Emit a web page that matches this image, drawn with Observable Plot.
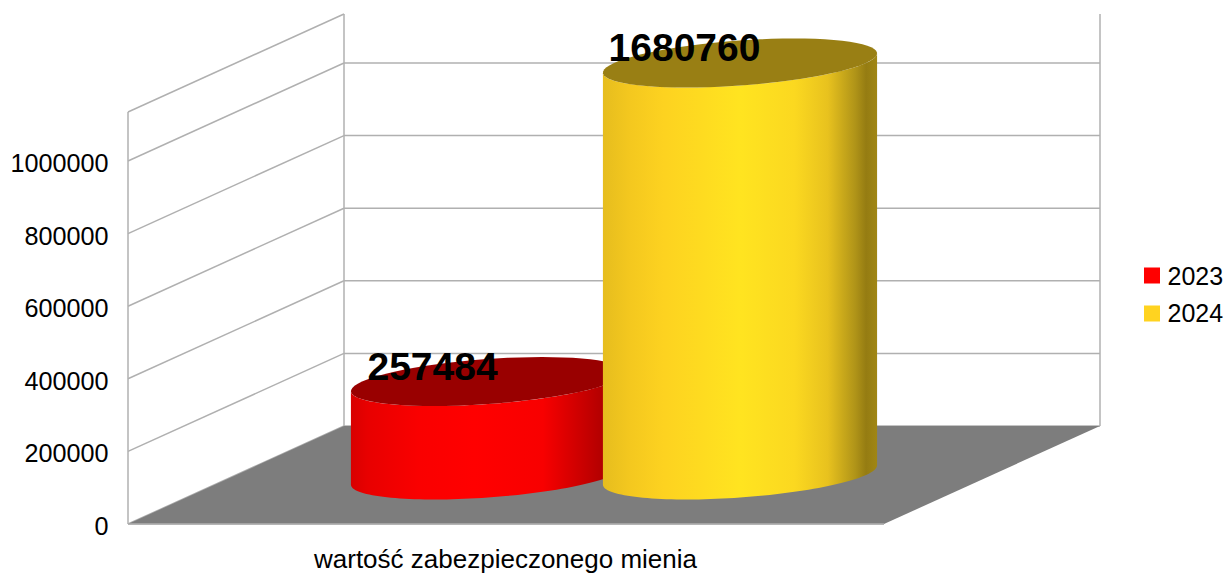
<!DOCTYPE html>
<html>
<head>
<meta charset="utf-8">
<script src="https://cdn.jsdelivr.net/npm/d3@7"></script>
<script src="https://cdn.jsdelivr.net/npm/@observablehq/plot@0.6"></script>
<style>
html,body{margin:0;padding:0;background:#fff;overflow:hidden}
svg{display:block}
</style>
</head>
<body>
<div id="chart"></div>
<script>
const category = "wartość zabezpieczonego mienia";
const seriesNames = ["2023", "2024"];
const seriesValues = [257484, 1680760];
const tickValues = [0, 200000, 400000, 600000, 800000, 1000000];
const axisMax = 1135000;
const capColors = ["#990000", "#997f14"];
const legendColors = ["#ff0000", "#ffd320"];
const bodyStops = [
  [[0, "#d80000"], [0.06, "#e80000"], [0.25, "#fa0000"], [0.45, "#ff0000"], [0.7, "#f80000"], [0.9, "#b80000"], [1, "#980000"]],
  [[0, "#e6bd1e"], [0.1, "#f4c81f"], [0.22, "#fdd220"], [0.5, "#ffe420"], [0.7, "#fbd820"], [0.82, "#e8c21e"], [0.92, "#b09418"], [0.96, "#957c12"], [1, "#a08614"]]
];

const font = "'Liberation Sans', Arial, sans-serif";
const gridColor = "#b0b0b0";
const depthX = 216 / 756, depthY = axisMax * 98 / 412;
const project = (u, v, d) => ({x: u + d * depthX, y: v + d * depthY});

// Cylinders sit in two equal slots of the single category, mid-depth on the floor
const radiusU = 1 / 6, radiusD = 0.25, centreD = 0.5;
const slotU = i => (i + 1) / 3;
const tangent = Math.atan2(radiusD * depthX, radiusU);
const onRim = (i, v, t) => project(slotU(i) + radiusU * Math.cos(t), v, centreD + radiusD * Math.sin(t));
const steps = d3.range(0, 73);
const cap = (i, v) => steps.map(k => onRim(i, v, k / 72 * 2 * Math.PI));
const frontArc = (i, v) => steps.map(k => onRim(i, v, tangent + Math.PI + k / 72 * Math.PI));
const body = (i, v) => [...frontArc(i, 0), ...frontArc(i, v).reverse()];
const shown = v => Math.min(v, axisMax);

const floor = [project(0, 0, 0), project(1, 0, 0), project(1, 0, 1), project(0, 0, 1), project(0, 0, 0)];
const seg = (a, b) => ({x1: a.x, y1: a.y, x2: b.x, y2: b.y});
const frame = [
  seg(project(0, 0, 0), project(0, axisMax, 0)),
  seg(project(0, 0, 1), project(0, axisMax, 1)),
  seg(project(1, 0, 1), project(1, axisMax, 1)),
  seg(project(0, axisMax, 0), project(0, axisMax, 1)),
  seg(project(0, 0, 0), project(1, 0, 0))
];
const grid = tickValues.flatMap(v => [
  seg(project(0, v, 0), project(0, v, 1)),
  seg(project(0, v, 1), project(1, v, 1))
]);
const linkOpts = {x1: "x1", y1: "y1", x2: "x2", y2: "y2", stroke: gridColor, strokeWidth: 1.5};

const marginLeft = 128;
const chart = Plot.plot({
  width: 1226, height: 573,
  marginLeft, marginRight: 0, marginTop: 0, marginBottom: 0,
  style: {fontFamily: font, background: "#fff"},
  x: {domain: [0, 1], range: [127.5, 883.5], axis: null},
  y: {domain: [0, axisMax], range: [523.5, 111.5], axis: null},
  marks: [
    Plot.link(grid, linkOpts),
    Plot.link(frame, linkOpts),
    Plot.line(floor, {x: "x", y: "y", fill: "#7d7d7d", stroke: "none"}),
    Plot.link([frame[4]], linkOpts),
    ...seriesValues.flatMap((v, i) => [
      Plot.line(body(i, shown(v)), {x: "x", y: "y", fill: `url(#body${i})`, stroke: "none"}),
      Plot.line(cap(i, shown(v)), {x: "x", y: "y", fill: capColors[i], stroke: "none"})
    ]),
    Plot.axisY(tickValues, {anchor: "left", tickSize: 0, tickPadding: 20, tickFormat: d3.format("d"),
      fontSize: 25.2, fill: "#000", dy: 3, label: null}),
    Plot.text([category], {text: d => d, x: () => 0.5, frameAnchor: "bottom", lineAnchor: "middle",
      dx: -0.5, dy: -14, fontSize: 26, fill: "#000"}),
    Plot.text(seriesValues.map((v, i) => ({...project(slotU(i), shown(v), centreD), v})), {
      x: "x", y: "y", text: d => String(d.v), textAnchor: "middle", dx: -55.5, dy: -14,
      fontSize: 39, fontWeight: "bold", fill: "#000"
    }),
    ...seriesNames.flatMap((name, i) => [
      Plot.dot([name], {frameAnchor: "top-left", dx: 1151.5 - marginLeft, dy: 275 + i * 38, symbol: "square", r: 9.03,
        fill: legendColors[i], stroke: "none"}),
      Plot.text([name], {text: d => d, frameAnchor: "top-left", textAnchor: "start", lineAnchor: "middle",
        dx: 1167 - marginLeft, dy: 276 + i * 37.5, fontSize: 25, fill: "#000"})
    ])
  ]
});

const defs = d3.select(chart).insert("defs", ":first-child");
bodyStops.forEach((stops, i) => {
  const g = defs.append("linearGradient").attr("id", `body${i}`).attr("x1", 0).attr("x2", 1).attr("y1", 0).attr("y2", 0);
  stops.forEach(([o, c]) => g.append("stop").attr("offset", o).attr("stop-color", c));
});
document.getElementById("chart").appendChild(chart);
</script>
</body>
</html>
